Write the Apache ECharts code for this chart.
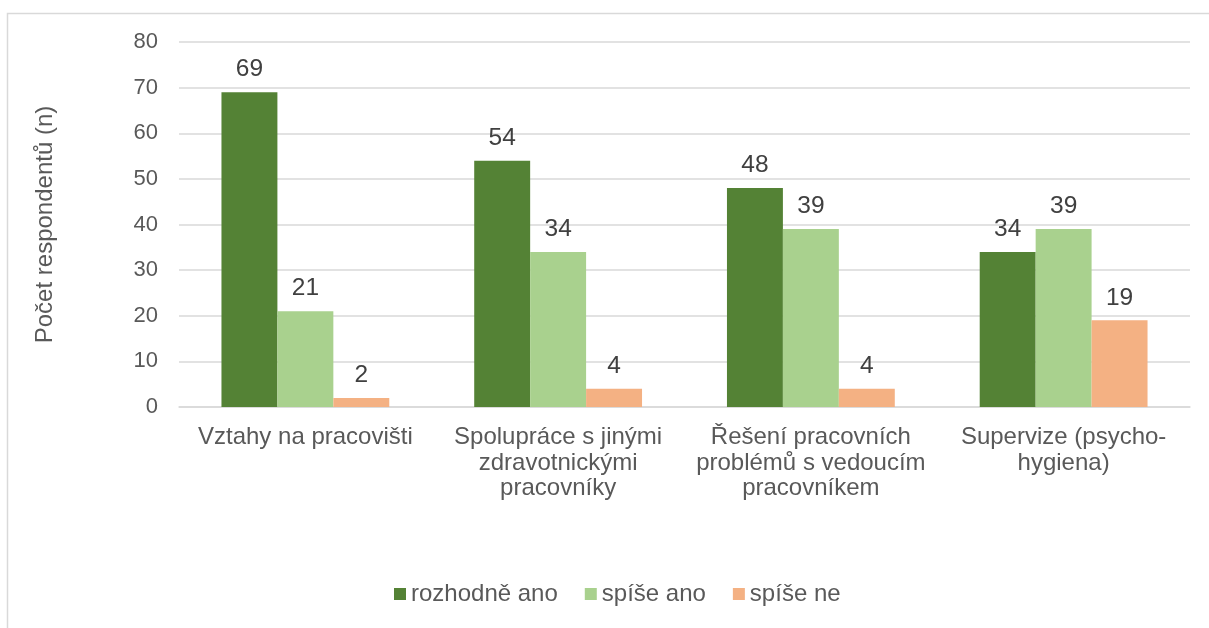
<!DOCTYPE html>
<html>
<head>
<meta charset="utf-8">
<script src="https://cdn.jsdelivr.net/npm/echarts@6/dist/echarts.min.js"></script>
<style>
  html, body { margin: 0; padding: 0; background: #fff; }
  #chart { width: 1209px; height: 628px; }
</style>
</head>
<body>
<div id="chart"></div>
<script>
// data
var categories = [
  'Vztahy na pracovišti',
  'Spolupráce s jinými\nzdravotnickými\npracovníky',
  'Řešení pracovních\nproblémů s vedoucím\npracovníkem',
  'Supervize (psycho-\nhygiena)'
];
var seriesNames = ['rozhodně ano', 'spíše ano', 'spíše ne'];
var rozhodneAno = [69, 54, 48, 34];
var spiseAno = [21, 34, 39, 39];
var spiseNe = [2, 4, 4, 19];
var colors = ['#548235', '#A9D18E', '#F4B183'];

var font = '"Liberation Sans", Arial, sans-serif';
var textColor = '#595959';

function makeSeries(name, data, color) {
  return {
    name: name,
    type: 'bar',
    data: data,
    barGap: '0%',
    barCategoryGap: '33.6%',
    itemStyle: { color: color },
    label: {
      show: true,
      position: 'top',
      distance: 10,
      color: '#404040',
      fontSize: 24.5,
      fontFamily: font
    }
  };
}

var myChart = echarts.init(document.getElementById('chart'));
myChart.setOption({
  animation: false,
  color: colors,
  graphic: [{
    type: 'rect',
    shape: { x: 7.5, y: 13.5, width: 1230, height: 650 },
    style: { fill: 'none', stroke: '#d9d9d9', lineWidth: 1.5 },
    silent: true
  }],
  grid: { left: 179, top: 42, width: 1011, height: 365, containLabel: false },
  legend: {
    data: seriesNames,
    bottom: 17,
    left: 389,
    itemWidth: 12,
    itemHeight: 12,
    itemGap: 27,
    icon: 'rect',
    textStyle: { color: textColor, fontSize: 24, fontFamily: font }
  },
  xAxis: {
    type: 'category',
    data: categories,
    axisTick: { show: false },
    axisLine: { lineStyle: { color: '#d9d9d9', width: 1.5 } },
    axisLabel: {
      color: textColor,
      fontSize: 24,
      fontFamily: font,
      lineHeight: 25.5,
      margin: 18,
      interval: 0
    }
  },
  yAxis: {
    type: 'value',
    min: 0,
    max: 80,
    interval: 10,
    name: 'Počet respondentů (n)',
    nameLocation: 'middle',
    nameGap: 122,
    nameTextStyle: { color: textColor, fontSize: 24, fontFamily: font },
    axisLine: { show: false },
    axisTick: { show: false },
    axisLabel: { color: textColor, fontSize: 22, fontFamily: font, margin: 21 },
    splitLine: { lineStyle: { color: '#d9d9d9', width: 1.5 } }
  },
  series: [
    makeSeries(seriesNames[0], rozhodneAno, colors[0]),
    makeSeries(seriesNames[1], spiseAno, colors[1]),
    makeSeries(seriesNames[2], spiseNe, colors[2])
  ]
});
</script>
</body>
</html>
